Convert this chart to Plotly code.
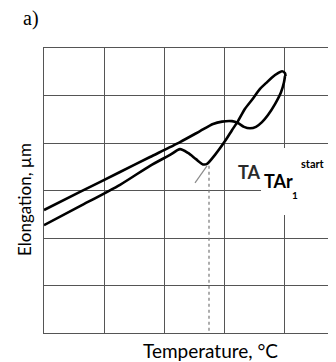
import plotly.graph_objects as go

# Curve 1 (upper at start, heating)
x1 = [0, 0.6, 1.267, 1.767, 2.267, 2.6, 2.817, 2.967, 3.133, 3.233, 3.333, 3.433, 3.533, 3.633, 3.733, 3.85, 3.95, 4.0, 4.017]
y1 = [2.59, 2.97, 3.39, 3.705, 4.02, 4.25, 4.40, 4.45, 4.46, 4.42, 4.34, 4.31, 4.34, 4.44, 4.59, 4.82, 5.07, 5.28, 5.41]
# Curve 2 (lower at start, with dip)
x2 = [0, 0.6, 1.267, 1.767, 2.1, 2.267, 2.4, 2.533, 2.65, 2.717, 2.85, 3.017, 3.133, 3.233, 3.35, 3.467, 3.6, 3.7, 3.8, 3.9, 3.967, 4.017, 4.025]
y2 = [2.27, 2.67, 3.12, 3.52, 3.75, 3.87, 3.79, 3.66, 3.55, 3.56, 3.75, 4.04, 4.27, 4.46, 4.72, 4.91, 5.14, 5.26, 5.38, 5.47, 5.51, 5.47, 5.41]
# Tangent and start marker
tan_x = [2.517, 2.717]
tan_y = [3.16, 3.52]
start_x = [2.75, 2.75]
start_y = [3.52, 0]

fig = go.Figure()
fig.add_trace(go.Scatter(x=tan_x, y=tan_y, mode="lines", line=dict(color="#8a8a8a", width=1.2), hoverinfo="skip"))
fig.add_trace(go.Scatter(x=start_x, y=start_y, mode="lines", line=dict(color="#777", width=1.2, dash="dot"), hoverinfo="skip"))
fig.add_trace(go.Scatter(x=x1, y=y1, mode="lines", line=dict(color="black", width=2.6, shape="spline", smoothing=0.7)))
fig.add_trace(go.Scatter(x=x2, y=y2, mode="lines", line=dict(color="black", width=2.6, shape="spline", smoothing=0.7)))

# Gray partial label behind white box
ann = [
    dict(x=3.417, y=3.38, xref="x", yref="y", text="<b>TA</b>", showarrow=False,
         font=dict(family="Lato", size=18, color="#2a2a2a")),
]
fig.add_shape(type="rect", x0=3.617, x1=5.2, y0=2.484, y1=3.895, xref="x", yref="y",
              fillcolor="white", line=dict(width=0), layer="above")
ann += [
    dict(x=3.9, y=3.2, xref="x", yref="y", text="<b>TAr</b>", showarrow=False,
         font=dict(family="Lato", size=18, color="black")),
    dict(x=4.19, y=2.905, xref="x", yref="y", text="<b>1</b>", showarrow=False,
         font=dict(family="Lato", size=10, color="black")),
    dict(x=4.475, y=3.56, xref="x", yref="y", text="<b>start</b>", showarrow=False,
         font=dict(family="Lato", size=11, color="black")),
    dict(x=2.767, y=0, xref="x", yref="paper", yshift=-17, yanchor="middle", xanchor="center",
         text="Temperature, °C", showarrow=False,
         font=dict(family="Lato", size=19, color="black")),
    dict(x=0, y=2.8, xref="paper", yref="y", xshift=-20, xanchor="center", yanchor="middle",
         text="Elongation, µm", showarrow=False,
         textangle=-90, font=dict(family="Lato", size=17, color="black")),
    dict(x=0, y=1, xref="paper", yref="paper", xshift=-13, yshift=30, xanchor="center", yanchor="middle",
         text="a)", showarrow=False,
         font=dict(family="Liberation Serif", size=20, color="black")),
]

fig.update_layout(
    width=328, height=354,
    margin=dict(l=36, r=0, t=40, b=29),
    paper_bgcolor="white", plot_bgcolor="white",
    showlegend=False,
    annotations=ann,
    xaxis=dict(range=[0, 292/60], dtick=1, tick0=0, showgrid=True, gridcolor="#555", gridwidth=1.2,
               showticklabels=False, ticks="", zeroline=False, showline=True, linecolor="#555",
               linewidth=1.2, mirror=True, fixedrange=True),
    yaxis=dict(range=[0, 6], dtick=1, tick0=0, showgrid=True, gridcolor="#555", gridwidth=1.2,
               showticklabels=False, ticks="", zeroline=False, showline=True, linecolor="#555",
               linewidth=1.2, fixedrange=True),
)

fig.write_html("out.html")
